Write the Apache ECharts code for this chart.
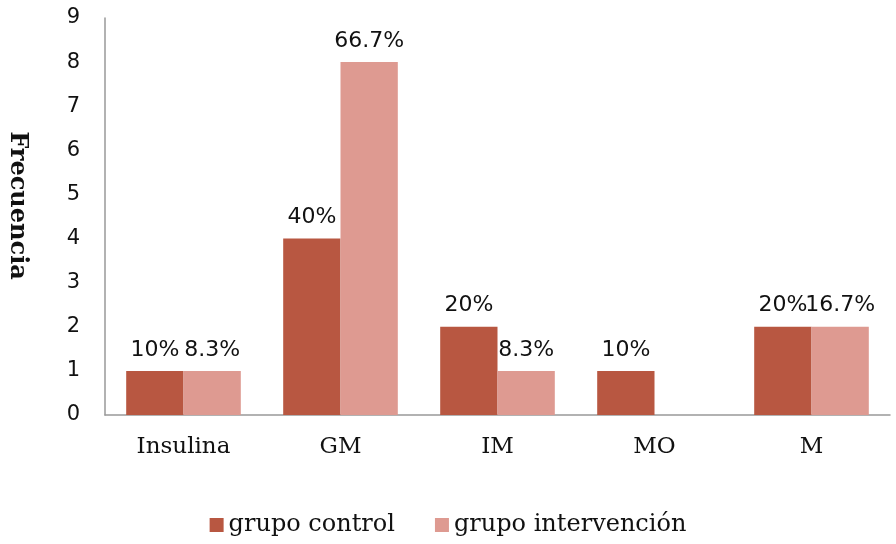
<!DOCTYPE html>
<html><head><meta charset="utf-8">
<script src="https://cdn.jsdelivr.net/npm/echarts@6/dist/echarts.min.js"></script>
<style>html,body{margin:0;padding:0;background:#fff}#c{width:896px;height:544px}</style>
</head><body><div id="c"></div>
<script>
const categories = ['Insulina', 'GM', 'IM', 'MO', 'M'];
const controlValues = [1, 4, 2, 1, 2];
const interventionValues = [1, 8, 1, 0, 2];
const controlLabels = ['10%', '40%', '20%', '10%', '20%'];
const interventionLabels = ['8.3%', '66.7%', '8.3%', '', '16.7%'];
const seriesNames = ['grupo control', 'grupo intervención'];
const yTicks = [0, 1, 2, 3, 4, 5, 6, 7, 8, 9];

const chart = echarts.init(document.getElementById('c'), null, {renderer: 'canvas'});
const serif = 'DejaVu Serif';
const sans = 'DejaVu Sans';
const labelStyle = (labels) => ({
  show: true, position: 'top', distance: 10,
  fontFamily: sans, fontSize: 22, color: '#111',
  formatter: p => labels[p.dataIndex]
});
chart.setOption({
  animation: false,
  grid: {left: 105, right: 6, top: 18, bottom: 129, containLabel: false, outerBoundsMode: 'none'},
  legend: {
    bottom: 2, left: 'center', itemWidth: 14, itemHeight: 14, itemGap: 40, itemTextGap: 6, icon: 'rect',
    textStyle: {fontFamily: serif, fontSize: 24, color: '#111'},
    data: seriesNames
  },
  xAxis: {
    type: 'category', data: categories,
    axisLine: {lineStyle: {color: '#999', width: 1.5}},
    axisTick: {show: false},
    axisLabel: {fontFamily: serif, fontSize: 23, color: '#111', margin: 21}
  },
  yAxis: {
    type: 'value', min: yTicks[0], max: yTicks[yTicks.length - 1], interval: 1,
    name: 'Frecuencia', nameLocation: 'middle', nameGap: 76, nameRotate: -90,
    nameTextStyle: {fontFamily: serif, fontSize: 24, fontWeight: 'bold', color: '#111', padding: [0, 22, 0, 0]},
    axisLine: {show: true, lineStyle: {color: '#999', width: 1.5}},
    axisTick: {show: false},
    splitLine: {show: false},
    axisLabel: {fontFamily: sans, fontSize: 21, color: '#111', margin: 25}
  },
  series: [
    {name: seriesNames[0], type: 'bar', data: controlValues, barGap: '0%', barCategoryGap: '27%',
     itemStyle: {color: '#B85741'}, label: labelStyle(controlLabels)},
    {name: seriesNames[1], type: 'bar', data: interventionValues,
     itemStyle: {color: '#DE9A91'}, label: labelStyle(interventionLabels)}
  ]
});
</script></body></html>
